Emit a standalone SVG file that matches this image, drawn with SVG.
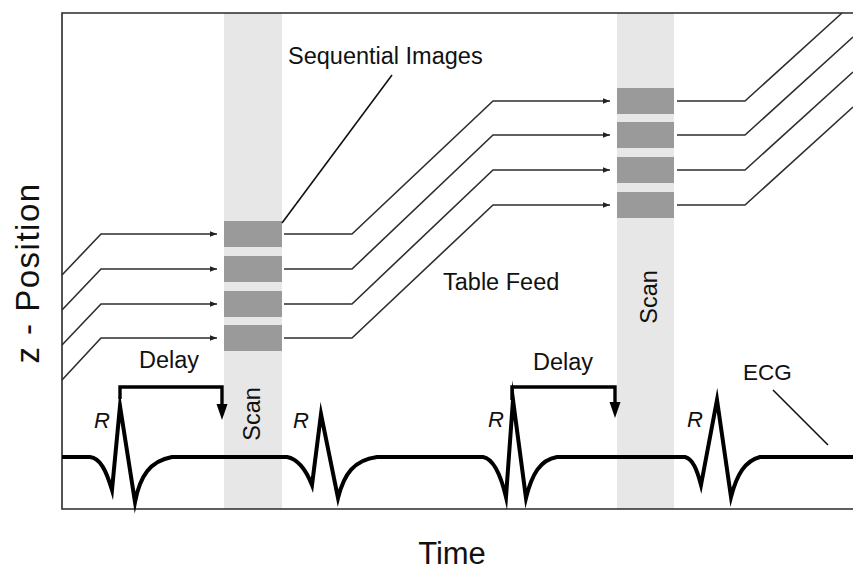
<svg xmlns="http://www.w3.org/2000/svg" width="853" height="571" viewBox="0 0 853 571">
<defs>
<style>
.band{fill:#e7e7e7}
.img{fill:#9a9a9a}
.frame{fill:none;stroke:#2a2a2a;stroke-width:1.6}
.feed{fill:none;stroke:#2e2e2e;stroke-width:1.6;stroke-linejoin:miter}
.ptr{fill:none;stroke:#111;stroke-width:1.6}
.ecg{fill:none;stroke:#000;stroke-width:4;stroke-linejoin:miter;stroke-miterlimit:20}
.brk{fill:none;stroke:#000;stroke-width:3.4}
.lbl{font-family:"Liberation Sans",Arial,sans-serif;font-size:23.5px;fill:#111}
.r{font-family:"Liberation Sans",Arial,sans-serif;font-size:22px;font-style:italic;fill:#111}
.axis{font-family:"Liberation Sans",Arial,sans-serif;font-size:33px;fill:#111}
</style>
<marker id="ah" viewBox="0 0 10 8" refX="10" refY="4" markerWidth="7" markerHeight="5.6" markerUnits="userSpaceOnUse" orient="auto">
<path d="M0 0 L10 4 L0 8 Z" fill="#222"/>
</marker>
</defs>
<rect width="853" height="571" fill="#ffffff"/>

<g id="scan1">
<rect class="band" x="224" y="13" width="58" height="496"/>
<rect class="img" x="224" y="221" width="58" height="26"/>
<rect class="img" x="224" y="256" width="58" height="26"/>
<rect class="img" x="224" y="291" width="58" height="26"/>
<rect class="img" x="224" y="325" width="58" height="26"/>
<text class="lbl" transform="translate(260 414) rotate(-90)" text-anchor="middle">Scan</text>
</g>

<g id="scan2">
<rect class="band" x="617" y="13" width="57" height="496"/>
<rect class="img" x="617" y="88" width="57" height="26"/>
<rect class="img" x="617" y="122" width="57" height="26"/>
<rect class="img" x="617" y="157" width="57" height="26"/>
<rect class="img" x="617" y="192" width="57" height="26"/>
<text class="lbl" transform="translate(657 297) rotate(-90)" text-anchor="middle">Scan</text>
</g>

<g id="frame">
<path class="frame" d="M853 13 L62 13 L62 509 L853 509"/>
</g>

<g id="connectors">
<path class="feed" d="M62 275 L101 234 L217 234" marker-end="url(#ah)"/>
<path class="feed" d="M62 310 L101 269 L217 269" marker-end="url(#ah)"/>
<path class="feed" d="M62 345 L101 304 L217 304" marker-end="url(#ah)"/>
<path class="feed" d="M62 380 L101 338 L217 338" marker-end="url(#ah)"/>
<path class="feed" d="M284 234 L352 234 L493 101 L610 101" marker-end="url(#ah)"/>
<path class="feed" d="M284 269 L352 269 L493 135 L610 135" marker-end="url(#ah)"/>
<path class="feed" d="M284 304 L352 304 L493 170 L610 170" marker-end="url(#ah)"/>
<path class="feed" d="M284 338 L352 338 L493 205 L610 205" marker-end="url(#ah)"/>
<path class="feed" d="M677 101 L745 101 L842 13"/>
<path class="feed" d="M677 135 L745 135 L853 37"/>
<path class="feed" d="M677 170 L745 170 L853 72"/>
<path class="feed" d="M677 205 L745 205 L853 107"/>
<path class="ptr" d="M392 75 L282 223"/>
<path class="ptr" d="M773 390 L828 445"/>
</g>

<g id="labels">
<text class="lbl" x="288" y="64">Sequential Images</text>
<text class="lbl" x="443" y="290">Table Feed</text>
<text class="lbl" x="743" y="380" style="font-size:22.5px">ECG</text>
<text class="axis" transform="translate(39 273) rotate(-90)" text-anchor="middle" letter-spacing="1.5">z - Position</text>
<text class="axis" x="452" y="564" text-anchor="middle" style="font-size:31px">Time</text>
</g>

<g id="delay1">
<text class="lbl" x="139" y="368">Delay</text>
<path class="brk" d="M120 399 L120 387 L222 387 L222 405"/>
<path d="M216.5 404 L227.5 404 L222 420 Z" fill="#000"/>
</g>

<g id="delay2">
<text class="lbl" x="533" y="370">Delay</text>
<path class="brk" d="M512 400 L512 387 L615 387 L615 403"/>
<path d="M609.5 402 L620.5 402 L615 418 Z" fill="#000"/>
</g>

<g id="ecg">
<path class="ecg" d="M62 457 L90 457 C100 458 106 470 112 490 L120 406 L135 502 C140 476 150 461 172 457 L287 457 C298 459 306 470 312 485 L321 414 L338 498 C344 474 354 460 377 457 L483 457 C494 459 501 476 506 497 L513 400 L526 498 C532 474 540 460 557 457 L685 457 C693 459 697 470 701 485 L717 400 L731 497 C737 474 745 461 760 457 L853 457"/>
<text class="r" x="94" y="428">R</text>
<text class="r" x="293" y="428">R</text>
<text class="r" x="488" y="427">R</text>
<text class="r" x="687" y="427">R</text>
</g>
</svg>
